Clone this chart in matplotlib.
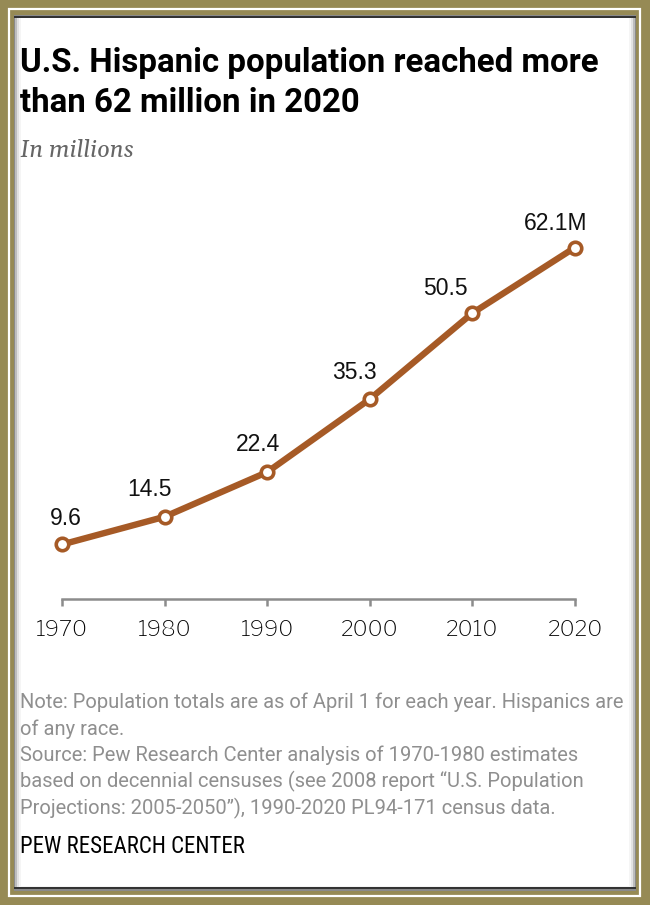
import matplotlib.pyplot as plt
from matplotlib.patches import Rectangle

years = [1970, 1980, 1990, 2000, 2010, 2020]
population = [9.6, 14.5, 22.4, 35.3, 50.5, 62.1]
labels = ['9.6', '14.5', '22.4', '35.3', '50.5', '62.1M']
# label offsets (pixels) relative to the point, for the label centre
label_dx = [4, -15, -9, -15, -27, -19]
label_dy = [-27, -29, -29, -28, -26, -26]

title_lines = ["U.S. Hispanic population reached more",
               "than 62 million in 2020"]
subtitle = "In millions"
note_lines = [
    "Note: Population totals are as of April 1 for each year. Hispanics are",
    "of any race.",
    "Source: Pew Research Center analysis of 1970-1980 estimates",
    "based on decennial censuses (see 2008 report \u201cU.S. Population",
    "Projections: 2005-2050\u201d), 1990-2020 PL94-171 census data.",
]
credit = "PEW RESEARCH CENTER"

W, H = 650, 905
line_color = '#a65a26'

fig = plt.figure(figsize=(W / 100, H / 100), dpi=100)
fig.patch.set_facecolor('#968a55')


def px(x, y):
    return x / W, 1 - y / H


def box(x0, y0, x1, y1, **kw):
    fig.patches.append(Rectangle(px(x0, y1), (x1 - x0) / W, (y1 - y0) / H,
                                 transform=fig.transFigure, zorder=-10, **kw))


# frame: thin white line inside the olive border, then a shaded white panel
box(9, 9, 640, 896, facecolor='none', edgecolor='white', linewidth=1.6)
box(14, 15, 636, 891, facecolor='#8a8a8a', edgecolor='none')
box(15, 17, 635, 889, facecolor='#bdbdbd', edgecolor='none')
box(17, 18, 633, 888, facecolor='#e2e2e2', edgecolor='none')
box(19, 18, 631, 887, facecolor='#f5f5f5', edgecolor='none')
box(21, 18, 629, 886, facecolor='white', edgecolor='none')
box(14, 16, 636, 18, facecolor='#333333', edgecolor='none')
box(14, 887, 636, 889, facecolor='#333333', edgecolor='none')

# chart area: 1970 at x=62, 2020 at x=575, zero at y=598
y0_px, ymax = 598.8, 65
scale = 5.657
ax = fig.add_axes([62 / W, (H - y0_px) / H, (575 - 62) / W, ymax * scale / H])
ax.set_facecolor('none')
ax.set_zorder(5)
ax.plot(years, population, color=line_color, linewidth=4.6, marker='o',
        markersize=9, markerfacecolor='white', markeredgecolor=line_color,
        markeredgewidth=2.6, clip_on=False, zorder=3)

for x, y, t, dx, dy in zip(years, population, labels, label_dx, label_dy):
    ax.annotate(t, (x, y), xytext=(dx * 0.72, -(dy + 8) * 0.72),
                textcoords='offset points', ha='center', va='baseline',
                fontsize=16.5, family='Liberation Sans', color='#111111')

ax.set_xlim(1970, 2020)
ax.set_ylim(0, ymax)
ax.set_xticks(years)
ax.set_xticklabels([str(y) for y in years], family='Libre Franklin',
                   fontsize=16, fontweight='medium', color='black')
ax.set_yticks([])
for s in ['left', 'right', 'top']:
    ax.spines[s].set_visible(False)
ax.spines['bottom'].set_color('#8c8c8c')
ax.spines['bottom'].set_linewidth(1.8)
ax.tick_params(axis='x', length=5, width=1.8, color='#8c8c8c', pad=10)

# texts
for i, line in enumerate(title_lines):
    x, y = px(20, 72 + 40 * i)
    fig.text(x, y, line, fontsize=23.8, fontweight='bold',
             family=['Roboto', 'DejaVu Sans'], color='black', va='baseline')
x, y = px(20, 157)
fig.text(x, y, subtitle, fontsize=17, style='italic',
         family=['Gelasio', 'DejaVu Serif'], color='#666666', va='baseline')
for i, line in enumerate(note_lines):
    x, y = px(20, 708 + 26.5 * i)
    fig.text(x, y, line, fontsize=14.5, family=['Roboto', 'DejaVu Sans'],
             color='#8f8f8f', va='baseline')
x, y = px(20, 853)
fig.text(x, y, credit, fontsize=16.5, family=['Roboto Condensed', 'DejaVu Sans'],
         color='black', va='baseline')

fig.savefig('out.png', dpi=100, facecolor=fig.get_facecolor())
